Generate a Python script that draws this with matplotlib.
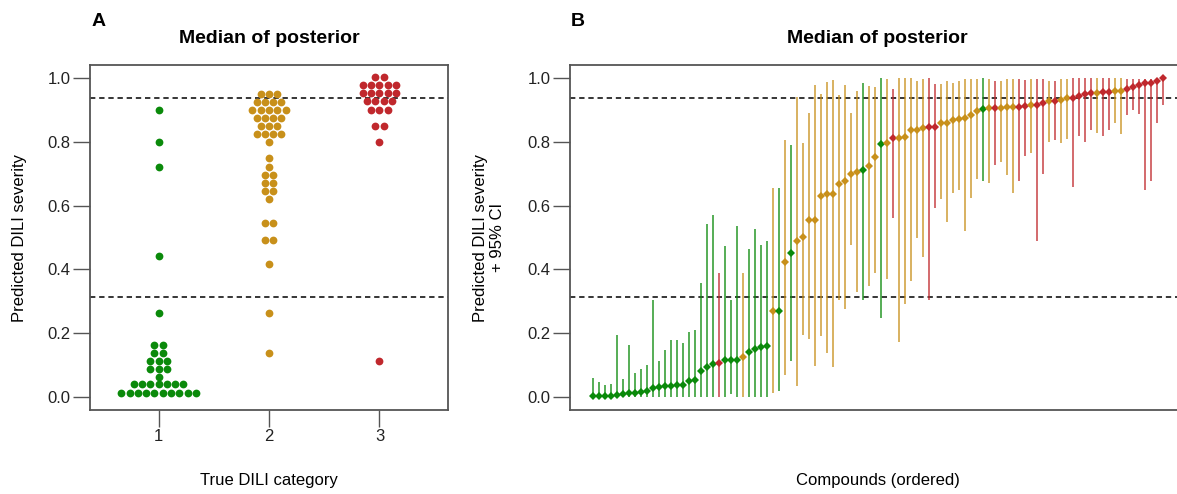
import numpy as np
import matplotlib.pyplot as plt

plt.rcParams['font.family'] = ['Liberation Sans', 'DejaVu Sans']

#%% colours for the three true DILI categories
cols = {1: '#0b8a0b', 2: '#c8901a', 3: '#c0282d'}
thr = [0.3125, 0.9375]

#%% panel A: posterior medians per true category (as shown in the swarm)
cat1 = [0.90, 0.80, 0.722, 0.442, 0.265, 0.165, 0.165, 0.139, 0.139,
        0.1125, 0.1125, 0.1125, 0.0875, 0.0875, 0.0875, 0.063,
        0.04, 0.04, 0.04, 0.04, 0.04, 0.04, 0.04,
        0.012, 0.012, 0.012, 0.012, 0.012, 0.012, 0.012, 0.012, 0.012, 0.012]
cat2 = [0.95, 0.95, 0.95, 0.925, 0.925, 0.925, 0.925,
        0.90, 0.90, 0.90, 0.90, 0.90, 0.875, 0.875, 0.875, 0.875,
        0.85, 0.85, 0.85, 0.824, 0.824, 0.824, 0.824,
        0.798, 0.748, 0.722, 0.697, 0.697, 0.672, 0.672, 0.647, 0.647,
        0.621, 0.545, 0.545, 0.493, 0.493, 0.418, 0.265, 0.1375]
cat3 = [1.002, 1.002, 0.976, 0.976, 0.976, 0.976, 0.976,
        0.951, 0.951, 0.951, 0.951, 0.951, 0.926, 0.926, 0.926, 0.926,
        0.90, 0.90, 0.90, 0.849, 0.849, 0.798, 0.113]

#%% panel B: compounds ordered by median, with 95% CI
med = [0.003, 0.003, 0.004, 0.005, 0.008, 0.011, 0.012, 0.014, 0.017, 0.020,
       0.030, 0.032, 0.035, 0.036, 0.037, 0.037, 0.052, 0.053, 0.081, 0.095,
       0.103, 0.106, 0.116, 0.116, 0.117, 0.127, 0.141, 0.152, 0.157, 0.160,
       0.270, 0.270, 0.422, 0.451, 0.488, 0.501, 0.555, 0.556, 0.630, 0.637,
       0.637, 0.668, 0.676, 0.698, 0.706, 0.710, 0.724, 0.751, 0.794, 0.795,
       0.810, 0.8125, 0.815, 0.836, 0.837, 0.844, 0.846, 0.847, 0.857, 0.860,
       0.868, 0.871, 0.875, 0.883, 0.897, 0.902, 0.904, 0.906, 0.906, 0.907,
       0.907, 0.908, 0.911, 0.915, 0.916, 0.920, 0.927, 0.928, 0.931, 0.936,
       0.937, 0.942, 0.948, 0.952, 0.953, 0.954, 0.956, 0.958, 0.959, 0.965,
       0.970, 0.978, 0.983, 0.984, 0.991, 0.998]
lo = [0.0, 0.0, 0.0, 0.0, 0.0, 0.0, 0.0, 0.0, 0.0, 0.0,
      0.0, 0.0, 0.0, 0.0, 0.0, 0.0, 0.0, 0.0, 0.0, 0.0,
      0.0, 0.0, 0.0, 0.010, 0.0, 0.0, 0.0, 0.0, 0.0, 0.0,
      0.012, 0.020, 0.070, 0.112, 0.035, 0.194, 0.183, 0.098, 0.192, 0.138,
      0.096, 0.305, 0.277, 0.475, 0.329, 0.305, 0.349, 0.390, 0.248, 0.370,
      0.560, 0.173, 0.293, 0.363, 0.499, 0.440, 0.305, 0.592, 0.620, 0.550,
      0.640, 0.649, 0.520, 0.623, 0.683, 0.678, 0.670, 0.728, 0.737, 0.695,
      0.640, 0.676, 0.756, 0.764, 0.4875, 0.700, 0.800, 0.806, 0.795, 0.807,
      0.657, 0.819, 0.799, 0.835, 0.827, 0.819, 0.8375, 0.860, 0.823, 0.884,
      0.900, 0.886, 0.649, 0.678, 0.857, 0.915]
hi = [0.061, 0.048, 0.037, 0.040, 0.196, 0.058, 0.165, 0.077, 0.087, 0.102,
      0.303, 0.112, 0.147, 0.179, 0.178, 0.171, 0.204, 0.210, 0.357, 0.542,
      0.570, 0.388, 0.473, 0.303, 0.537, 0.388, 0.465, 0.527, 0.475, 0.488,
      0.655, 0.656, 0.806, 0.790, 0.940, 0.795, 0.890, 0.976, 0.949, 0.986,
      0.992, 0.946, 0.976, 0.890, 0.960, 0.985, 0.973, 0.972, 1.000, 0.996,
      0.965, 1.000, 1.000, 1.000, 0.990, 0.997, 1.000, 0.980, 0.980, 0.990,
      0.983, 0.990, 0.997, 0.996, 0.996, 0.998, 0.996, 0.990, 0.990, 0.997,
      0.997, 0.997, 0.993, 0.997, 0.997, 0.997, 0.990, 0.990, 0.995, 0.995,
      0.999, 0.999, 0.999, 0.999, 0.999, 0.999, 0.999, 0.999, 0.999, 0.996,
      0.996, 0.996, 0.996, 0.996, 0.996, 0.999]
cat = [1, 1, 1, 1, 1, 1, 1, 1, 1, 1,
       1, 1, 1, 1, 1, 1, 1, 1, 1, 1,
       1, 3, 1, 1, 1, 2, 1, 1, 1, 1,
       2, 1, 2, 1, 2, 2, 2, 2, 2, 2,
       2, 2, 2, 2, 2, 1, 2, 2, 1, 2,
       3, 2, 2, 2, 2, 2, 3, 3, 2, 2,
       2, 2, 2, 2, 2, 1, 2, 3, 2, 2,
       2, 3, 3, 2, 3, 3, 2, 3, 2, 2,
       3, 3, 3, 3, 2, 3, 3, 2, 2, 3,
       3, 3, 3, 3, 3, 3]

#%% figure
W, H = 1177, 494
fig = plt.figure(figsize=(W / 100, H / 100), dpi=100)
axA = fig.add_axes([90 / W, 1 - 410 / H, 358 / W, 345 / H])
axB = fig.add_axes([570 / W, 1 - 410 / H, 615.6 / W, 345 / H])

def style(ax):
    for s in ax.spines.values():
        s.set_color('#555555')
        s.set_linewidth(1.3)
    ax.tick_params(direction='out', length=12, width=1.0, color='#555555',
                   labelsize=12, labelcolor='#222222', pad=2)
    ax.set_ylim(-0.04, 1.04)
    ax.set_yticks(np.arange(0, 1.01, 0.2))
    ax.set_yticklabels(['%.1f' % v for v in np.arange(0, 1.01, 0.2)])
    for t in thr:
        ax.axhline(t, color='black', lw=1.1, ls=(0, (3.5, 2.5)), zorder=1)
    ax.set_title('Median of posterior', fontsize=14, fontweight='bold', pad=16)

# swarm (centred rows) for panel A
dx = 0.075
for k, vals in zip([1, 2, 3], [cat1, cat2, cat3]):
    vals = np.array(vals)
    for v in np.unique(vals):
        n = np.sum(vals == v)
        xs = k + (np.arange(n) - (n - 1) / 2) * dx
        axA.plot(xs, np.full(n, v), 'o', color=cols[k], ms=5.6, mew=0, zorder=3)
axA.set_xlim(0.38, 3.62)
axA.set_xticks([1, 2, 3])
style(axA)
axA.set_ylabel('Predicted DILI severity', fontsize=12, va='center')
axA.yaxis.set_label_coords(-70 / 358, 0.5)
axA.set_xlabel('True DILI category', fontsize=12, va='center')
axA.xaxis.set_label_coords(0.5, -71 / 345)

# ordered compounds with CI for panel B
idx = np.arange(1, len(med) + 1)
for i in range(len(med)):
    c = cols[cat[i]]
    axB.plot([idx[i], idx[i]], [lo[i], hi[i]], color=c, lw=1.3, alpha=0.75,
             solid_capstyle='butt', zorder=2)
for i in range(len(med)):
    axB.plot(idx[i], med[i], 'D', color=cols[cat[i]], ms=4.5, mew=0, zorder=3)
axB.set_xlim(-2.8, 99.8)
axB.set_xticks([])
style(axB)
axB.set_ylabel('Predicted DILI severity\n+ 95% CI', fontsize=12, va='center',
               linespacing=1.2)
axB.yaxis.set_label_coords(-81 / 615.6, 0.5)
axB.set_xlabel('Compounds (ordered)', fontsize=12, va='center')
axB.xaxis.set_label_coords(0.5, -71 / 345)

fig.text(92 / W, 1 - 22 / H, 'A', fontsize=14, fontweight='bold', va='center')
fig.text(571 / W, 1 - 22 / H, 'B', fontsize=14, fontweight='bold', va='center')

fig.savefig('out.png', dpi=100)
